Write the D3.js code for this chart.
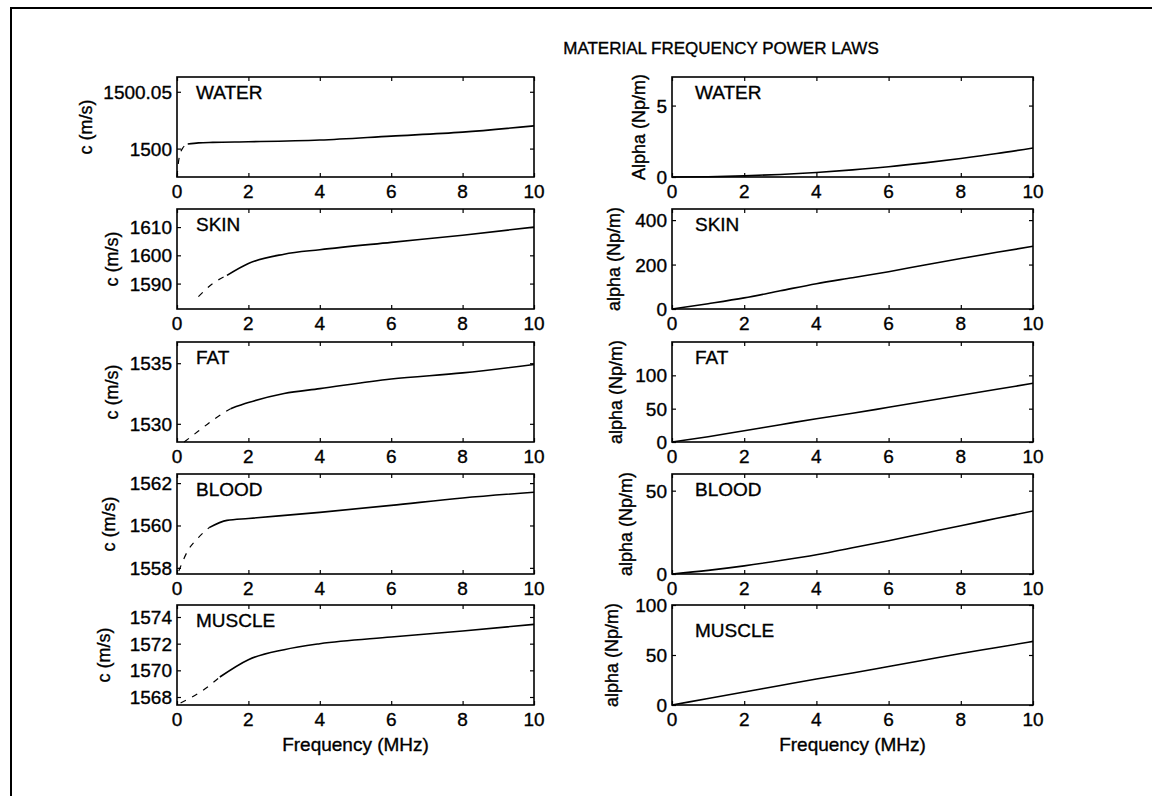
<!DOCTYPE html>
<html>
<head>
<meta charset="utf-8">
<script src="https://cdn.jsdelivr.net/npm/d3@7"></script>
<style>
  body { margin: 0; background: #fff; }
  text { font-family: "Liberation Sans", Arial, sans-serif; fill: #000; stroke: #000; stroke-width: 0.35px; }
</style>
</head>
<body>
<div id="chart"></div>
<script>
// set up page

var width = 1152,
  height = 796;

var materials = ["WATER", "SKIN", "FAT", "BLOOD", "MUSCLE"];

// sound speed c (m/s) vs frequency
var c_freq = [
  [0, 0.05, 0.15, 0.3, 0.6, 1, 2, 4, 6, 8, 10],
  [0.6, 1, 1.4, 2, 3, 4, 6, 8, 10],
  [0.2, 0.6, 1, 1.5, 2, 3, 4, 6, 8, 10],
  [0.05, 0.3, 0.6, 0.9, 1.4, 2, 4, 6, 8, 10],
  [0.1, 0.7, 1.2, 2, 3, 4, 6, 8, 10]
];
var c_vals = [
  [1499.975, 1499.99, 1500.0, 1500.004, 1500.005, 1500.0055, 1500.006, 1500.0075, 1500.011, 1500.0145, 1500.02],
  [1585.4, 1590, 1592.9, 1597.1, 1600.4, 1602, 1604.6, 1607.1, 1610],
  [1528.5, 1529.4, 1530.3, 1531.25, 1531.75, 1532.5, 1532.9, 1533.7, 1534.2, 1534.9],
  [1557.85, 1558.8, 1559.43, 1559.9, 1560.24, 1560.33, 1560.62, 1560.95, 1561.3, 1561.57],
  [1567.55, 1568.45, 1569.5, 1570.8, 1571.55, 1572.0, 1572.5, 1572.95, 1573.45]
];
// where the steep low-frequency part ends (drawn broken, as in the print)
var c_cut = [0.3, 1.4, 1.5, 0.9, 1.2];
var c_domain = [
  [1499.975, 1500.063],
  [1581, 1616.4],
  [1528.5, 1536.75],
  [1557.71, 1562.43],
  [1567.4, 1574.9]
];
var c_ticks = [
  [1500, 1500.05],
  [1590, 1600, 1610],
  [1530, 1535],
  [1558, 1560, 1562],
  [1568, 1570, 1572, 1574]
];

// attenuation alpha (Np/m) vs frequency, right column
var a_freq = [0, 1, 2, 3, 4, 5, 6, 7, 8, 9, 10];
var a_vals = [
  [0, 0.02, 0.08, 0.18, 0.32, 0.5, 0.72, 0.99, 1.3, 1.64, 2.03],
  [0, 24, 50, 82, 114, 141, 168, 198, 227, 255, 282],
  [0, 8, 17, 26, 35, 43, 52, 61, 70, 79, 88],
  [0, 2.2, 4.9, 8.1, 11.6, 15.7, 20, 24.5, 29, 33.4, 37.8],
  [0, 6.5, 13, 19.5, 26, 32, 38.5, 45, 51.5, 57.5, 63.6]
];
var a_domain = [[0, 7], [0, 450], [0, 150], [0, 60], [0, 100]];
var a_ticks = [[0, 5], [0, 200, 400], [0, 50, 100], [0, 50], [0, 50, 100]];
var a_label = ["Alpha (Np/m)", "alpha (Np/m)", "alpha (Np/m)", "alpha (Np/m)", "alpha (Np/m)"];

var x_ticks = [0, 2, 4, 6, 8, 10];

// panel layout
var cols = [{ x: 177, w: 357 }, { x: 672, w: 361 }];
var rowTop = [77, 209, 342, 474, 605];
var panelH = 100;
// ylabel x positions (measured from the print)
var c_labelX = [86, 112, 112, 109, 104];
var a_labelX = [639, 614, 616, 626, 612];

var svg = d3.select("#chart").append("svg")
  .attr("width", width)
  .attr("height", height);

// outer frame, cut by the right and bottom of the page
svg.append("rect")
  .attr("x", 11).attr("y", 8)
  .attr("width", 1300).attr("height", 900)
  .attr("fill", "none").attr("stroke", "#000").attr("stroke-width", 2);

svg.append("text")
  .attr("x", 721).attr("y", 54)
  .attr("text-anchor", "middle")
  .style("font-size", "17px")
  .text("MATERIAL FREQUENCY POWER LAWS");

function drawPanel(col, row, freq, vals, ydom, yticks, ylabel, labelX, cut) {
  var left = cols[col].x, w = cols[col].w, top = rowTop[row];

  var x = d3.scaleLinear().domain([0, 10]).range([left, left + w]);
  var y = d3.scaleLinear().domain(ydom).range([top + panelH, top]);

  var g = svg.append("g").attr("class", "panel");

  // inside ticks on all four sides, MATLAB style
  g.append("g")
    .attr("transform", "translate(0," + (top + panelH) + ")")
    .call(d3.axisTop(x).tickValues(x_ticks).tickSize(4).tickFormat(""));
  g.append("g")
    .attr("transform", "translate(0," + top + ")")
    .call(d3.axisBottom(x).tickValues(x_ticks).tickSize(4).tickFormat(""));
  g.append("g")
    .attr("transform", "translate(" + left + ",0)")
    .call(d3.axisRight(y).tickValues(yticks).tickSize(4).tickFormat(""));
  g.append("g")
    .attr("transform", "translate(" + (left + w) + ",0)")
    .call(d3.axisLeft(y).tickValues(yticks).tickSize(4).tickFormat(""));
  g.selectAll(".domain").remove();
  g.selectAll(".tick line").attr("stroke", "#000").attr("stroke-width", 1.2);

  // box
  g.append("rect")
    .attr("x", left).attr("y", top)
    .attr("width", w).attr("height", panelH)
    .attr("fill", "none").attr("stroke", "#000").attr("stroke-width", 1.6);

  // tick labels
  g.selectAll("text.xt")
    .data(x_ticks)
    .enter().append("text")
    .attr("class", "xt")
    .attr("x", function(d) { return x(d); })
    .attr("y", top + panelH + 21)
    .attr("text-anchor", "middle")
    .style("font-size", "19px")
    .text(function(d) { return d; });

  g.selectAll("text.yt")
    .data(yticks)
    .enter().append("text")
    .attr("class", "yt")
    .attr("x", left - 5)
    .attr("y", function(d) { return y(d) + 7; })
    .attr("text-anchor", "end")
    .style("font-size", "19px")
    .text(function(d) { return d; });

  g.append("text")
    .attr("transform", "translate(" + labelX + "," + (top + panelH / 2) + ") rotate(-90)")
    .attr("text-anchor", "middle")
    .attr("dy", "0.35em")
    .style("font-size", "18px")
    .text(ylabel);

  g.append("text")
    .attr("x", left + (col == 0 ? 19 : 23))
    .attr("y", top + 22 + (row == 4 && col == 1 ? 10 : 0))
    .style("font-size", "19px")
    .text(materials[row]);

  var pts = freq.map(function(f, i) { return [f, vals[i]]; });
  var line = d3.line()
    .x(function(d) { return x(d[0]); })
    .y(function(d) { return y(d[1]); })
    .curve(d3.curveMonotoneX);

  if (cut != null) {
    var low = pts.filter(function(d) { return d[0] <= cut; });
    var high = pts.filter(function(d) { return d[0] >= cut; });
    g.append("path")
      .attr("d", line(low))
      .attr("fill", "none").attr("stroke", "#000")
      .attr("stroke-width", 1.2).attr("stroke-dasharray", "6,7");
    g.append("path")
      .attr("d", line(high))
      .attr("fill", "none").attr("stroke", "#000").attr("stroke-width", 1.6);
  } else {
    g.append("path")
      .attr("d", line(pts))
      .attr("fill", "none").attr("stroke", "#000").attr("stroke-width", 1.6);
  }

  return g;
}

// left column: sound speed, right column: attenuation
materials.forEach(function(m, i) {
  drawPanel(0, i, c_freq[i], c_vals[i], c_domain[i], c_ticks[i], "c (m/s)", c_labelX[i], c_cut[i]);
  drawPanel(1, i, a_freq, a_vals[i], a_domain[i], a_ticks[i], a_label[i], a_labelX[i], null);
});

// x labels under the bottom row
[0, 1].forEach(function(col) {
  svg.append("text")
    .attr("x", cols[col].x + cols[col].w / 2)
    .attr("y", rowTop[4] + panelH + 46)
    .attr("text-anchor", "middle")
    .style("font-size", "19px")
    .text("Frequency (MHz)");
});
</script>
</body>
</html>
